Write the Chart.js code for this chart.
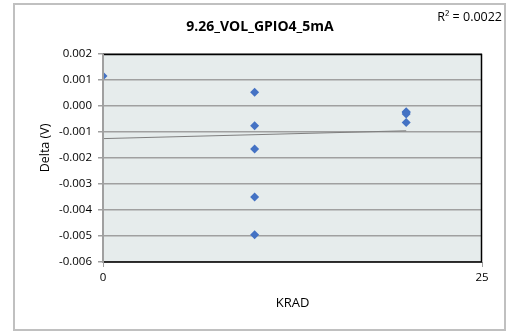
<!DOCTYPE html>
<html>
<head>
<meta charset="utf-8">
<script src="https://cdn.jsdelivr.net/npm/chart.js@4.4.0/dist/chart.umd.min.js"></script>
<style>
  html, body { margin: 0; padding: 0; background: #fff; }
  #wrap { width: 508px; height: 333px; }
</style>
</head>
<body>
<div id="wrap"><canvas id="myChart" width="508" height="333"></canvas></div>
<script>
// data
var krad  = [0, 10, 10, 10, 10, 10, 20, 20, 20, 20];
var delta = [0.00115, 0.00053, -0.00076, -0.00165, -0.0035, -0.00495, -0.00022, -0.00025, -0.00031, -0.00063];
var yTicks = [-0.006, -0.005, -0.004, -0.003, -0.002, -0.001, 0, 0.001, 0.002];
var xTicks = [0, 25];
var titleText = '9.26_VOL_GPIO4_5mA';
var rSquaredText = 'R\u00B2 = 0.0022';

// linear trendline from the points
var n = krad.length, sx = 0, sy = 0, sxx = 0, sxy = 0;
for (var i = 0; i < n; i++) {
  sx += krad[i]; sy += delta[i];
  sxx += krad[i] * krad[i]; sxy += krad[i] * delta[i];
}
var slope = (n * sxy - sx * sy) / (n * sxx - sx * sx);
var icpt = (sy - slope * sx) / n;
var xMin = Math.min.apply(null, krad), xMax = Math.max.apply(null, krad);
var trend = [{x: xMin, y: icpt + slope * xMin}, {x: xMax, y: icpt + slope * xMax}];

var points = krad.map(function (k, i) { return {x: k, y: delta[i]}; });

var FONT = '"Open Sans", sans-serif';

var decor = {
  id: 'decor',
  beforeDraw: function (chart) {
    var c = chart.ctx, a = chart.chartArea;
    c.save();
    c.fillStyle = '#e6ecec';
    c.fillRect(a.left, a.top, a.right - a.left, a.bottom - a.top);
    c.restore();
  },
  afterDatasetsDraw: function (chart) {
    var c = chart.ctx, a = chart.chartArea;
    c.save();
    // plot frame
    c.strokeStyle = '#000';
    c.lineWidth = 1.5;
    c.beginPath();
    c.moveTo(a.left, a.top + 0.5);
    c.lineTo(a.right - 0.5, a.top + 0.5);
    c.lineTo(a.right - 0.5, a.bottom);
    c.lineTo(a.left, a.bottom);
    c.stroke();
    c.strokeStyle = '#a0a0a0';
    c.lineWidth = 2;
    c.beginPath();
    c.moveTo(a.left, a.top);
    c.lineTo(a.left, a.bottom + 1);
    c.stroke();
    // outer border
    c.strokeStyle = '#c0c0c0';
    c.lineWidth = 2;
    c.strokeRect(14, 4, 491, 326);
    // texts
    c.fillStyle = '#000';
    c.textAlign = 'center';
    c.textBaseline = 'middle';
    c.font = 'bold 14px ' + FONT;
    c.fillText(titleText, 260, 27);
    c.font = '12.5px ' + FONT;
    c.textAlign = 'right';
    c.fillText(rSquaredText, 502, 17);
    c.textAlign = 'center';
    c.font = '13px ' + FONT;
    c.fillText('KRAD', (a.left + a.right) / 2, 303);
    c.font = '12.5px ' + FONT;
    c.translate(45, 148);
    c.rotate(-Math.PI / 2);
    c.fillText('Delta (V)', 0, 0);
    c.restore();
  }
};

var ctx = document.getElementById('myChart').getContext('2d');
var myChart = new Chart(ctx, {
  type: 'scatter',
  data: {
    datasets: [{
      label: 'Delta',
      data: points,
      pointStyle: 'rectRot',
      pointRadius: 4.5,
      backgroundColor: '#4472c4',
      borderColor: '#4472c4',
      borderWidth: 0
    }, {
      label: 'Linear',
      type: 'line',
      data: trend,
      borderColor: '#7f7f7f',
      borderWidth: 1,
      pointRadius: 0,
      fill: false
    }]
  },
  options: {
    responsive: false,
    animation: false,
    layout: { padding: { left: 0, right: 26, top: 54, bottom: 0 } },
    plugins: { legend: { display: false }, tooltip: { enabled: false }, title: { display: false } },
    scales: {
      x: {
        type: 'linear',
        min: 0, max: 25,
        afterBuildTicks: function (s) { s.ticks = xTicks.map(function (v) { return {value: v}; }); },
        afterFit: function (s) { s.height = 71; },
        border: { display: false },
        grid: { drawOnChartArea: false, tickLength: 5, color: '#a0a0a0' },
        ticks: { font: { family: FONT, size: 11.5 }, color: '#000', padding: 4, maxRotation: 0 }
      },
      y: {
        min: -0.006, max: 0.002,
        afterBuildTicks: function (s) { s.ticks = yTicks.map(function (v) { return {value: v}; }); },
        afterFit: function (s) { s.width = 103; },
        border: { display: false },
        grid: { color: '#a0a0a0', lineWidth: 1.5, tickLength: 5 },
        ticks: {
          font: { family: FONT, size: 11.5 }, color: '#000', padding: 6,
          callback: function (v) { return Math.abs(v) < 1e-9 ? '0.000' : v.toFixed(3); }
        }
      }
    }
  },
  plugins: [decor]
});
</script>
</body>
</html>
